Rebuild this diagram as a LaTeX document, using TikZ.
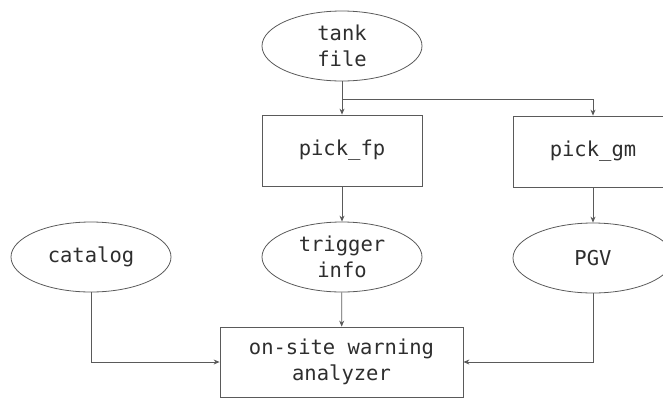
\documentclass[tikz,border=0pt]{standalone}
\usepackage{fontspec}
\setmonofont{DejaVu Sans Mono}
\usetikzlibrary{shapes.geometric,arrows.meta}
\definecolor{linegray}{HTML}{5A5A5A}
\definecolor{textgray}{HTML}{2E2E2E}
\tikzset{
  x=1pt,y=-1pt,
  base/.style={draw=linegray,line width=0.8pt,text=textgray,inner sep=0pt,align=center,
    font=\ttfamily\fontsize{20.5}{26}\selectfont},
  oval/.style={base,ellipse,minimum width=160pt,minimum height=70pt},
  proc/.style={base,rectangle,minimum width=160pt,minimum height=71pt},
  arr/.style={draw=linegray,line width=0.8pt,-{Stealth[length=6pt,width=5pt]}},
}
\begin{document}
\begin{tikzpicture}
\useasboundingbox (0,0) rectangle (663,397);
\clip (0,0) rectangle (663,397);
\node[oval] (tank) at (342,46) {tank\\file};
\node[proc] (fp) at (342,150.5) {pick\_fp};
\node[proc] (gm) at (593,151.5) {pick\_gm};
\node[oval] (cat) at (91,257) {catalog};
\node[oval] (trig) at (342,257) {trigger\\info};
\node[oval] (pgv) at (593,258) {PGV};
\node[base,rectangle,minimum width=243pt,minimum height=70pt] (ana) at (341.5,362) {on-site warning\\analyzer};
\coordinate (br) at (342,99);
\draw[arr] (tank) -- (fp);
\draw[arr] (br) -| (gm);
\draw[arr] (fp) -- (trig);
\draw[arr] (gm) -- (pgv);
\draw[arr] (trig) -- (ana);
\draw[arr] (cat) |- (ana);
\draw[arr] (pgv) |- (ana);
\end{tikzpicture}
\end{document}
